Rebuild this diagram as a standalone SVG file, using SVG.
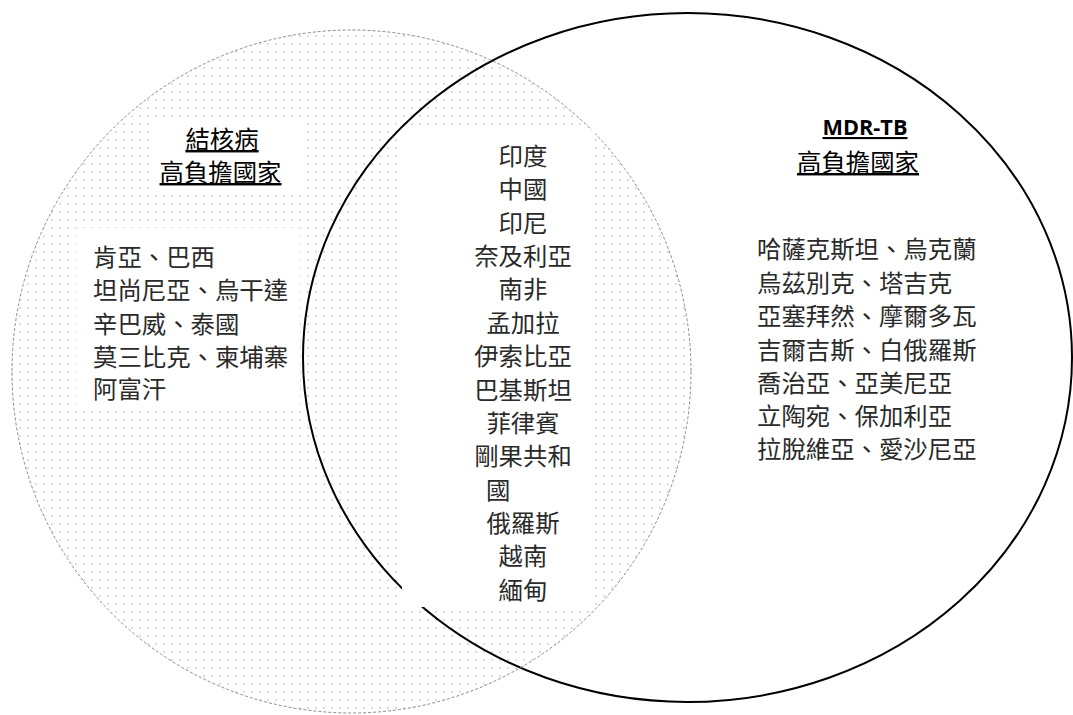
<svg xmlns="http://www.w3.org/2000/svg" width="1073" height="715" viewBox="0 0 1073 715">
  <style>
    .cjk { font-family: "Noto Sans CJK TC", "Noto Sans CJK SC", sans-serif; }
    .item { font-size: 24.4px; fill: #2a2a2a; }
    .title { font-size: 24.4px; fill: #000; text-decoration: underline; }
    .mdr { font-family: "Open Sans", "Liberation Sans", Arial, sans-serif; font-weight: bold; font-size: 21px; fill: #000; text-decoration: underline; }
    .mask { fill: #fff; stroke: none; }
  </style>
  <defs>
    <pattern id="dots" width="8" height="8" patternUnits="userSpaceOnUse">
      <circle cx="4" cy="4" r="0.8" fill="#b0b0b0"/>
    </pattern>
  </defs>
  <rect width="1073" height="715" fill="#fff"/>

  <g id="circle-tb">
    <ellipse cx="351.5" cy="371.5" rx="339.5" ry="341.5" fill="url(#dots)" stroke="none"/>
  </g>
  <g id="circle-mdr">
    <ellipse cx="687.5" cy="357.5" rx="384.5" ry="344.5" fill="none" stroke="#000" stroke-width="2"/>
  </g>
  <g id="circle-tb-outline">
    <ellipse cx="351.5" cy="371.5" rx="339.5" ry="341.5" fill="none" stroke="#8a8a8a" stroke-width="1" stroke-dasharray="3 2"/>
  </g>

  <g id="tb-title">
    <rect class="mask" x="150" y="117" width="155" height="78"/>
    <text class="cjk title" x="222" y="148" text-anchor="middle">結核病</text>
    <text class="cjk title" x="220.5" y="181" text-anchor="middle">高負擔國家</text>
  </g>

  <g id="tb-list">
    <rect class="mask" x="76" y="228" width="224" height="183"/>
    <text class="cjk item" x="93" y="265.5">肯亞、巴西</text>
    <text class="cjk item" x="93" y="299">坦尚尼亞、烏干達</text>
    <text class="cjk item" x="93" y="332.5">辛巴威、泰國</text>
    <text class="cjk item" x="93" y="366">莫三比克、柬埔寨</text>
    <text class="cjk item" x="93" y="398">阿富汗</text>
  </g>

  <g id="both-list">
    <rect class="mask" x="402" y="130" width="193" height="477"/>
    <g text-anchor="middle">
      <text class="cjk item" x="523" y="165">印度</text>
      <text class="cjk item" x="523" y="198.4">中國</text>
      <text class="cjk item" x="523" y="231.7">印尼</text>
      <text class="cjk item" x="523" y="265.1">奈及利亞</text>
      <text class="cjk item" x="523" y="298.4">南非</text>
      <text class="cjk item" x="523" y="331.8">孟加拉</text>
      <text class="cjk item" x="523" y="365.2">伊索比亞</text>
      <text class="cjk item" x="523" y="398.5">巴基斯坦</text>
      <text class="cjk item" x="523" y="431.9">菲律賓</text>
      <text class="cjk item" x="523" y="465.2">剛果共和</text>
    </g>
    <text class="cjk item" x="486" y="498.6">國</text>
    <g text-anchor="middle">
      <text class="cjk item" x="523" y="532">俄羅斯</text>
      <text class="cjk item" x="523" y="565.3">越南</text>
      <text class="cjk item" x="523" y="598.7">緬甸</text>
    </g>
  </g>

  <g id="mdr-title">
    <text class="mdr" x="865" y="135" text-anchor="middle" textLength="85" lengthAdjust="spacingAndGlyphs">MDR-TB</text>
    <text class="cjk title" x="858" y="171" text-anchor="middle">高負擔國家</text>
  </g>

  <g id="mdr-list">
    <text class="cjk item" x="757" y="258">哈薩克斯坦、烏克蘭</text>
    <text class="cjk item" x="757" y="291.5">烏茲別克、塔吉克</text>
    <text class="cjk item" x="757" y="325">亞塞拜然、摩爾多瓦</text>
    <text class="cjk item" x="757" y="358.5">吉爾吉斯、白俄羅斯</text>
    <text class="cjk item" x="757" y="392">喬治亞、亞美尼亞</text>
    <text class="cjk item" x="757" y="425">立陶宛、保加利亞</text>
    <text class="cjk item" x="757" y="458">拉脫維亞、愛沙尼亞</text>
  </g>

  <g id="connectors"></g>
</svg>
